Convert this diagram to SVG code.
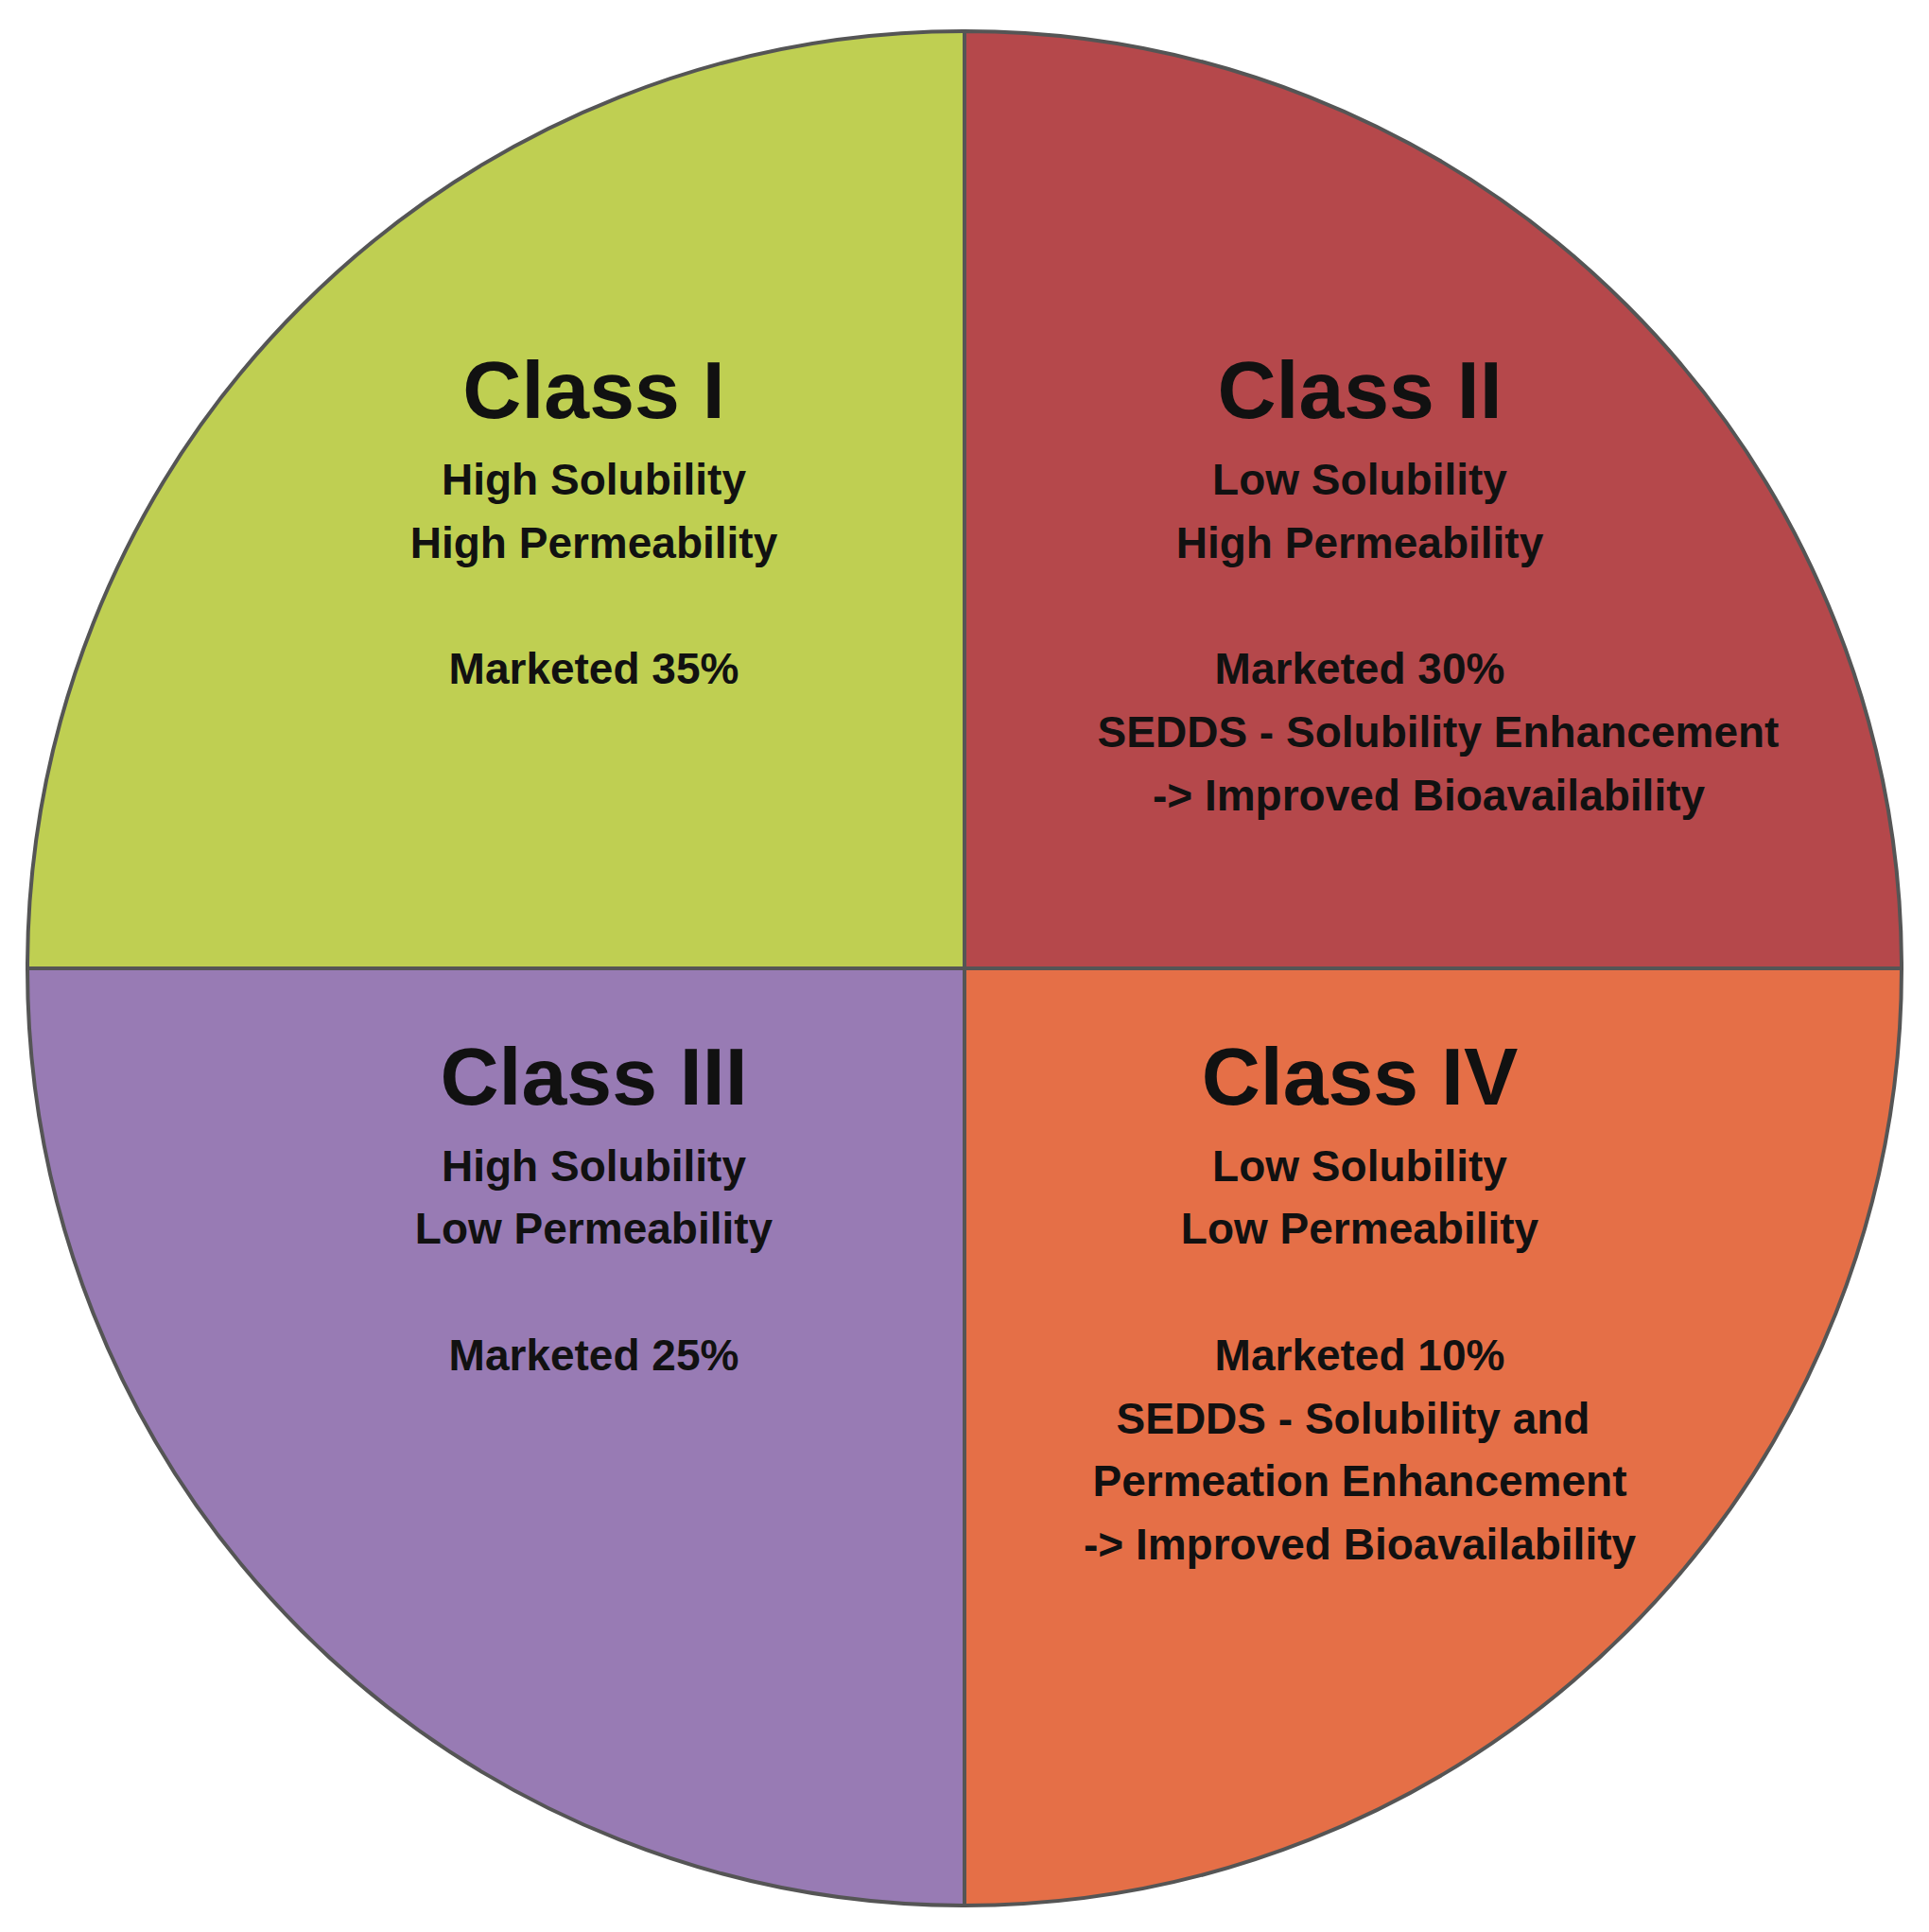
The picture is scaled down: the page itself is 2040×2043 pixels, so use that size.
<svg xmlns="http://www.w3.org/2000/svg" width="2040" height="2043" viewBox="0 0 2040 2043">
<style>
.t{font-family:"Liberation Sans",Arial,sans-serif;font-weight:bold;fill:#111;text-anchor:middle}
.h{font-size:86px}
.s{font-size:46px}
.q{stroke:#555;stroke-width:4}
</style>
<rect width="2040" height="2043" fill="#fff"/>
<g id="q1"><path class="q" d="M1020,1024 L29,1024 A991,991 0 0 1 1020,33 Z" fill="#BFCF52"/>
<text class="t h" x="628" y="442">Class I</text>
<text class="t s" x="628" y="523">High Solubility</text>
<text class="t s" x="628" y="590">High Permeability</text>
<text class="t s" x="628" y="723">Marketed 35%</text></g>
<g id="q2"><path class="q" d="M1020,1024 L1020,33 A991,991 0 0 1 2011,1024 Z" fill="#B5484B"/>
<text class="t h" x="1438" y="442">Class II</text>
<text class="t s" x="1438" y="523">Low Solubility</text>
<text class="t s" x="1438" y="590">High Permeability</text>
<text class="t s" x="1438" y="723">Marketed 30%</text>
<text class="t s" x="1521" y="790">SEDDS - Solubility Enhancement</text>
<text class="t s" x="1511" y="857">-&gt; Improved Bioavailability</text></g>
<g id="q3"><path class="q" d="M1020,1024 L1020,2015 A991,991 0 0 1 29,1024 Z" fill="#987BB4"/>
<text class="t h" x="628" y="1168">Class III</text>
<text class="t s" x="628" y="1249">High Solubility</text>
<text class="t s" x="628" y="1315">Low Permeability</text>
<text class="t s" x="628" y="1449">Marketed 25%</text></g>
<g id="q4"><path class="q" d="M1020,1024 L2011,1024 A991,991 0 0 1 1020,2015 Z" fill="#E56F47"/>
<text class="t h" x="1438" y="1168">Class IV</text>
<text class="t s" x="1438" y="1249">Low Solubility</text>
<text class="t s" x="1438" y="1315">Low Permeability</text>
<text class="t s" x="1438" y="1449">Marketed 10%</text>
<text class="t s" x="1431" y="1516">SEDDS - Solubility and</text>
<text class="t s" x="1438" y="1582">Permeation Enhancement</text>
<text class="t s" x="1438" y="1649">-&gt; Improved Bioavailability</text></g>
<g id="connectors"/>
</svg>
